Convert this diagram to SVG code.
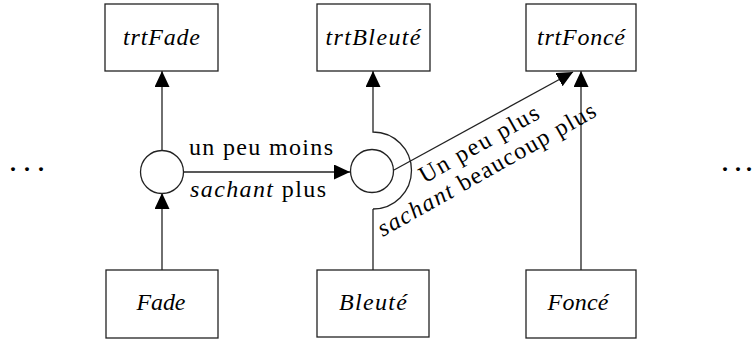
<svg xmlns="http://www.w3.org/2000/svg" width="755" height="342" viewBox="0 0 755 342">
<style>
.box{fill:#fff;stroke:#222;stroke-width:1.3}
.ln{fill:none;stroke:#222;stroke-width:1.3}
.t{font-family:"Liberation Serif","DejaVu Serif","Noto Serif",serif;font-size:24px;fill:#000}
.i{font-style:italic}
.d{font-weight:bold}
</style>
<defs>
<marker id="ah" viewBox="0 0 16 15" refX="16" refY="7.5" markerWidth="16" markerHeight="15" markerUnits="userSpaceOnUse" orient="auto">
<path d="M0,0 L16,7.5 L0,15 z" fill="#000"/>
</marker>
</defs>
<rect width="755" height="342" fill="#fff"/>
<g id="connectors">
<line class="ln" x1="162" y1="270" x2="162" y2="193" marker-end="url(#ah)"/>
<line class="ln" x1="162" y1="151" x2="162" y2="71" marker-end="url(#ah)"/>
<line class="ln" x1="184" y1="172" x2="350" y2="172" marker-end="url(#ah)"/>
<line class="ln" x1="373" y1="270" x2="373" y2="209"/>
<path class="ln" d="M373,209 A38.5,38.5 0 0 0 373,132 L373,71" marker-end="url(#ah)"/>
<line class="ln" x1="394" y1="170" x2="573" y2="72" marker-end="url(#ah)"/>
<line class="ln" x1="581" y1="270" x2="581" y2="71" marker-end="url(#ah)"/>
</g>
<g id="trtFade"><rect class="box" x="105" y="4" width="113" height="67"/><text class="t i" x="161.5" y="45" text-anchor="middle" textLength="77">trtFade</text></g>
<g id="trtBleute"><rect class="box" x="317" y="4" width="113" height="67"/><text class="t i" x="373" y="45" text-anchor="middle" textLength="95">trtBleuté</text></g>
<g id="trtFonce"><rect class="box" x="526" y="4" width="110" height="67"/><text class="t i" x="581" y="45" text-anchor="middle" textLength="88">trtFoncé</text></g>
<g id="Fade"><rect class="box" x="106" y="270" width="112" height="68"/><text class="t i" x="161" y="310" text-anchor="middle" textLength="49">Fade</text></g>
<g id="Bleute"><rect class="box" x="317" y="270" width="112" height="67"/><text class="t i" x="373" y="310" text-anchor="middle" textLength="68">Bleuté</text></g>
<g id="Fonce"><rect class="box" x="526" y="270" width="110" height="68"/><text class="t i" x="578" y="310" text-anchor="middle" textLength="61">Foncé</text></g>
<g id="join1"><circle class="box" cx="162" cy="172" r="21.5"/></g>
<g id="join2"><circle class="box" cx="372" cy="171" r="21.5"/></g>
<g id="labels">
<text class="t" x="261" y="155" text-anchor="middle" textLength="144">un peu moins</text>
<text class="t" x="258" y="197" text-anchor="middle" textLength="136"><tspan class="i">sachant</tspan> plus</text>
<g transform="translate(486.5,163.5) rotate(-29.5)">
<text class="t" x="3" y="-13" text-anchor="middle" textLength="134">Un peu plus</text>
<text class="t" x="-3" y="13" text-anchor="middle" textLength="247"><tspan class="i">sachant</tspan> beaucoup plus</text>
</g>
<text class="t d" x="10 24 38" y="171">...</text>
<text class="t d" x="722 735 746" y="171">...</text>
</g>
</svg>
